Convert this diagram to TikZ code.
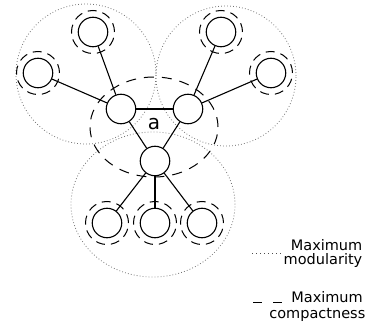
\documentclass[tikz,border=0pt]{standalone}
\usepackage{fontspec}
\setmainfont{DejaVu Sans}
\begin{document}
\begin{tikzpicture}[x=1pt,y=-1pt,
  vert/.style={circle, draw, fill=white, line width=1.1pt, minimum size=29.5pt, inner sep=0pt},
  edge/.style={line width=1.1pt},
  modcirc/.style={draw=black!55, line width=0.8pt, dash pattern=on 0.8pt off 2.2pt},
  compcirc/.style={draw=black, line width=1pt, dash pattern=on 9pt off 6pt},
  bigcomp/.style={draw=black, line width=1pt, dash pattern=on 10pt off 8pt},
  legtext/.style={anchor=base east, inner sep=0pt, font=\fontsize{14.5}{16}\selectfont},
]
\useasboundingbox (0,0) rectangle (370,329);

% maximum modularity communities
\draw[modcirc] (86,74) circle (70pt);
\draw[modcirc] (226,76) circle (70pt);
\draw[modcirc] (153,204.5) ellipse [x radius=82pt, y radius=72.5pt];

% maximum compactness community
\draw[bigcomp] (154,127) ellipse [x radius=64pt, y radius=50pt];

% vertices
\node[vert] (l1) at (93,32) {};
\node[vert] (l2) at (38,73) {};
\node[vert] (r1) at (221,32) {};
\node[vert] (r2) at (271,73) {};
\node[vert] (hl) at (121,109) {};
\node[vert] (hr) at (188,109) {};
\node[vert] (hb) at (155,161) {};
\node[vert] (b1) at (107,223) {};
\node[vert] (b2) at (155,223) {};
\node[vert] (b3) at (202,223) {};

% dashed circles around leaves
\foreach \n in {l1,l2,r1,r2,b1,b2,b3}
  \draw[compcirc] (\n) circle (21.5pt);

% edges
\draw[edge] (l1) -- (hl);
\draw[edge] (l2) -- (hl);
\draw[edge] (r1) -- (hr);
\draw[edge] (r2) -- (hr);
\draw[edge] (hl) -- (hr);
\draw[edge] (hl) -- (hb);
\draw[edge] (hr) -- (hb);
\draw[edge] (hb) -- (b1);
\draw[edge] (hb) -- (b2);
\draw[edge] (hb) -- (b3);

\node[font=\fontsize{20}{24}\selectfont, inner sep=0pt] (a) at (154,124) {a};

% legend
\coordinate (d1) at (252,253);
\coordinate (d2) at (281,253);
\draw[black!70, line width=1pt, dash pattern=on 1pt off 3pt] (d1) -- (d2);
\node[legtext] (t1) at (362.5,250) {Maximum};
\node[legtext] (t2) at (362.5,264) {modularity};

\coordinate (c1) at (253,302);
\coordinate (c2) at (282,302);
\draw[line width=1pt, dash pattern=on 9pt off 11pt] (c1) -- (c2);
\node[legtext] (t3) at (363,302) {Maximum};
\node[legtext] (t4) at (365.5,318) {compactness};
\end{tikzpicture}
\end{document}
